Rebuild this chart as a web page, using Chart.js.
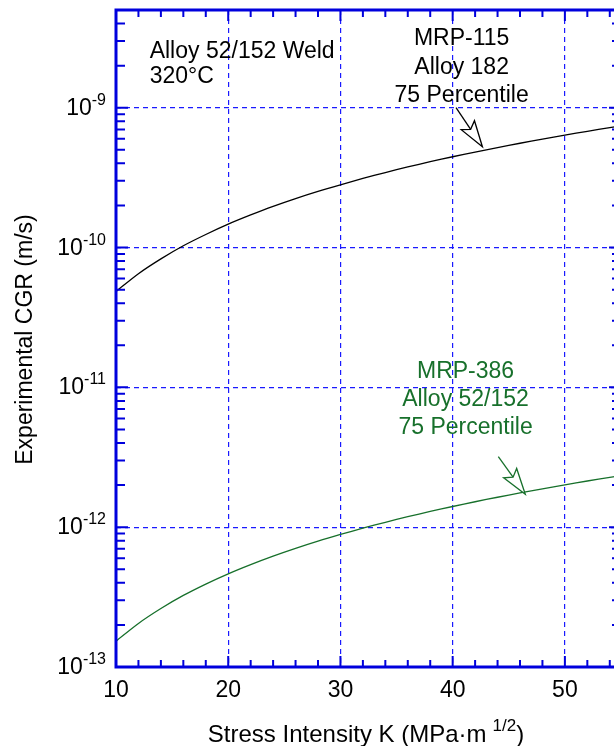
<!DOCTYPE html>
<html>
<head>
<meta charset="utf-8">
<script src="https://cdn.jsdelivr.net/npm/chart.js@4.4.1/dist/chart.umd.min.js"></script>
<style>
  html, body { margin: 0; padding: 0; overflow: hidden; background: #fff; }
  canvas { display: block; }
</style>
</head>
<body>
<canvas id="cgrChart" width="640" height="746"></canvas>
<script>
// stress intensity K (MPa·m^1/2)
const stressK = [10, 12, 14, 16, 18, 20, 22, 24, 26, 28, 30, 32, 34, 36, 38, 40, 42, 44, 46, 48, 50, 52, 54, 56];
// MRP-115, Alloy 182, 75 percentile (m/s)
const mrp115 = [4.85e-11, 6.5e-11, 8.3e-11, 1.03e-10, 1.24e-10, 1.47e-10, 1.71e-10, 1.97e-10, 2.24e-10, 2.52e-10,
  2.81e-10, 3.12e-10, 3.44e-10, 3.77e-10, 4.11e-10, 4.46e-10, 4.82e-10, 5.19e-10, 5.57e-10, 5.97e-10,
  6.37e-10, 6.78e-10, 7.21e-10, 7.64e-10];
// MRP-386, Alloy 52/152, 75 percentile (m/s)
const mrp386 = [1.53e-13, 2.05e-13, 2.62e-13, 3.25e-13, 3.92e-13, 4.64e-13, 5.4e-13, 6.21e-13, 7.06e-13, 7.95e-13,
  8.87e-13, 9.84e-13, 1.084e-12, 1.188e-12, 1.295e-12, 1.406e-12, 1.52e-12, 1.637e-12, 1.758e-12, 1.882e-12,
  2.009e-12, 2.14e-12, 2.27e-12, 2.41e-12];

const xTicks = [10, 20, 30, 40, 50];
const yTicks = [1e-13, 1e-12, 1e-11, 1e-10, 1e-9];
const yTickExp = ['-13', '-12', '-11', '-10', '-9'];

const BLUE = '#0000dd';
const GRID = '#1a1aff';
const GREEN = '#17702b';
const FONT = "'Liberation Sans', Arial, sans-serif";

function arrow(ctx, sx, sy, tx, ty, color) {
  const dx = tx - sx, dy = ty - sy;
  const len = Math.hypot(dx, dy);
  const ux = dx / len, uy = dy / len;
  const nx = -uy, ny = ux;
  const headLen = 26, notch = 21, half = 8;
  const bx = tx - ux * headLen, by = ty - uy * headLen;
  ctx.strokeStyle = color;
  ctx.lineWidth = 1.3;
  ctx.beginPath();
  ctx.moveTo(sx, sy);
  ctx.lineTo(tx - ux * notch, ty - uy * notch);
  ctx.stroke();
  ctx.beginPath();
  ctx.moveTo(tx, ty);
  ctx.lineTo(bx + nx * half, by + ny * half);
  ctx.lineTo(tx - ux * notch, ty - uy * notch);
  ctx.lineTo(bx - nx * half, by - ny * half);
  ctx.closePath();
  ctx.fillStyle = '#fff';
  ctx.fill();
  ctx.stroke();
}

function textLines(ctx, lines, x, ys, color, align) {
  ctx.fillStyle = color;
  ctx.textAlign = align;
  ctx.textBaseline = 'middle';
  ctx.font = '23px ' + FONT;
  lines.forEach((t, i) => ctx.fillText(t, x, ys[i] + 2));
}

const framePlugin = {
  id: 'frame',
  afterDraw(chart) {
    const { ctx, chartArea: a, scales: { x, y } } = chart;
    ctx.save();

    // inward ticks
    ctx.strokeStyle = BLUE;
    ctx.lineWidth = 2;
    ctx.beginPath();
    for (let k = 12; k < 55; k += 2) {
      const px = x.getPixelForValue(k);
      const l = k % 10 === 0 ? 11 : 7;
      ctx.moveTo(px, a.bottom); ctx.lineTo(px, a.bottom - l);
      ctx.moveTo(px, a.top); ctx.lineTo(px, a.top + l);
    }
    for (let e = -13; e <= -9; e++) {
      for (let m = 1; m <= 9; m++) {
        const v = m * Math.pow(10, e);
        if (v > y.max) break;
        const py = y.getPixelForValue(v);
        const l = m === 1 ? 12 : 9;
        ctx.moveTo(a.left, py); ctx.lineTo(a.left + l, py);
        ctx.moveTo(a.right, py); ctx.lineTo(a.right - l, py);
      }
    }
    ctx.stroke();

    // frame
    ctx.lineWidth = 3;
    ctx.strokeRect(a.left, a.top, a.right - a.left, a.bottom - a.top);

    // y tick labels with superscript exponent
    ctx.fillStyle = '#000';
    ctx.textBaseline = 'alphabetic';
    ctx.textAlign = 'right';
    yTicks.forEach((v, i) => {
      const py = y.getPixelForValue(v);
      ctx.font = '16px ' + FONT;
      const ew = ctx.measureText(yTickExp[i]).width;
      ctx.fillText(yTickExp[i], 106, py - 3);
      ctx.font = '23px ' + FONT;
      ctx.fillText('10', 106 - ew, py + 7);
    });

    // x axis title
    ctx.textAlign = 'left';
    ctx.font = '24px ' + FONT;
    const t1 = 'Stress Intensity K (MPa\u00B7m';
    const w1 = ctx.measureText(t1).width;
    ctx.font = '17px ' + FONT;
    const t2 = '1/2';
    const w2 = ctx.measureText(t2).width;
    ctx.font = '24px ' + FONT;
    const w3 = ctx.measureText(')').width;
    const gap = 6;
    const total = w1 + gap + w2 + w3;
    const sx = 366 - total / 2;
    ctx.fillText(t1, sx, 742);
    ctx.font = '17px ' + FONT;
    ctx.fillText(t2, sx + w1 + gap, 731);
    ctx.font = '24px ' + FONT;
    ctx.fillText(')', sx + w1 + gap + w2, 742);

    // y axis title
    ctx.save();
    ctx.translate(26, (a.top + a.bottom) / 2 + 1);
    ctx.rotate(-Math.PI / 2);
    ctx.textAlign = 'center';
    ctx.textBaseline = 'middle';
    ctx.font = '23px ' + FONT;
    ctx.fillText('Experimental CGR (m/s)', 0, 0);
    ctx.restore();

    // annotations
    textLines(ctx, ['Alloy 52/152 Weld', '320\u00B0C'], x.getPixelForValue(13.0),
      [y.getPixelForValue(2.6e-9), y.getPixelForValue(1.72e-9)], '#000', 'left');
    textLines(ctx, ['MRP-115', 'Alloy 182', '75 Percentile'], x.getPixelForValue(40.8),
      [y.getPixelForValue(3.22e-9), y.getPixelForValue(2.0e-9), y.getPixelForValue(1.26e-9)], '#000', 'center');
    textLines(ctx, ['MRP-386', 'Alloy 52/152', '75 Percentile'], x.getPixelForValue(41.15),
      [y.getPixelForValue(1.34e-11), y.getPixelForValue(8.5e-12), y.getPixelForValue(5.35e-12)], GREEN, 'center');

    arrow(ctx, x.getPixelForValue(40.3), y.getPixelForValue(1.0e-9),
      x.getPixelForValue(42.65), y.getPixelForValue(5.26e-10), '#000');
    arrow(ctx, x.getPixelForValue(44.07), y.getPixelForValue(3.2e-12),
      x.getPixelForValue(46.47), y.getPixelForValue(1.72e-12), GREEN);

    ctx.restore();
  }
};

new Chart(document.getElementById('cgrChart'), {
  type: 'line',
  data: {
    labels: stressK,
    datasets: [
      {
        label: 'MRP-115 Alloy 182 75 Percentile',
        data: stressK.map((k, i) => ({ x: k, y: mrp115[i] })),
        borderColor: '#000',
        borderWidth: 1.3,
        pointRadius: 0,
        tension: 0.3
      },
      {
        label: 'MRP-386 Alloy 52/152 75 Percentile',
        data: stressK.map((k, i) => ({ x: k, y: mrp386[i] })),
        borderColor: GREEN,
        borderWidth: 1.3,
        pointRadius: 0,
        tension: 0.3
      }
    ]
  },
  options: {
    responsive: false,
    animation: false,
    layout: { padding: { left: 0, top: 10, right: 19, bottom: 0 } },
    plugins: {
      legend: { display: false },
      tooltip: { enabled: false }
    },
    scales: {
      x: {
        type: 'linear',
        min: 10,
        max: 55,
        afterBuildTicks: s => { s.ticks = xTicks.map(v => ({ value: v })); },
        afterFit: s => { s.height = 79; },
        grid: { color: GRID, lineWidth: 1.2, drawTicks: false },
        border: { display: false, dash: [5, 4] },
        ticks: {
          color: '#000',
          padding: 10,
          font: { family: FONT, size: 23 },
          maxRotation: 0
        }
      },
      y: {
        type: 'logarithmic',
        min: 1e-13,
        max: 5e-9,
        afterBuildTicks: s => { s.ticks = yTicks.map(v => ({ value: v })); },
        afterFit: s => { s.width = 116; },
        grid: { color: GRID, lineWidth: 1.2, drawTicks: false },
        border: { display: false, dash: [5, 4] },
        ticks: { display: false }
      }
    }
  },
  plugins: [framePlugin]
});
</script>
</body>
</html>
